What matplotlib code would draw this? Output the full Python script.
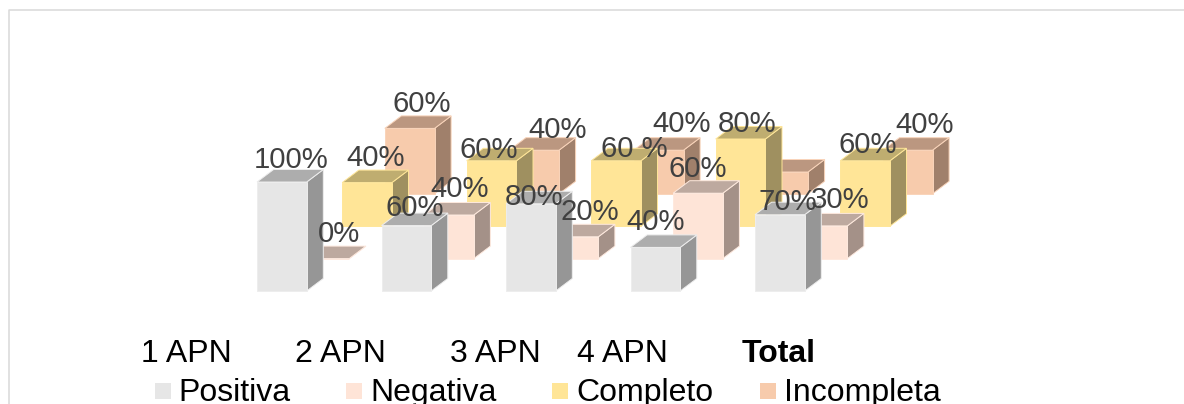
import matplotlib
matplotlib.use("Agg")
import matplotlib.pyplot as plt
from matplotlib.patches import Polygon, Rectangle

plt.rcParams['font.family'] = ['Liberation Sans', 'DejaVu Sans']

categories = ["1 APN", "2 APN", "3 APN", "4 APN", "Total"]
series_names = ["Positiva", "Negativa", "Completo", "Incompleta"]
positiva = [100, 60, 80, 40, 70]
negativa = [0, 40, 20, 60, 30]
completo = [40, 60, 60, 80, 60]
incompleta = [60, 40, 40, 20, 40]
series = [positiva, negativa, completo, incompleta]

# hand-placed label text (one is typed with a space in the original, one is hidden)
labels = [
    ["100%", "60%", "80%", "40%", "70%"],
    ["0%", "40%", "20%", "60%", "30%"],
    ["40%", "60%", "60 %", "80%", "60%"],
    ["60%", "40%", "40%", "", "40%"],
]

# styling / layout
front = ["#E6E6E6", "#FEE4D7", "#FFE597", "#F7CBAC"]
top = ["#ADADAD", "#BDA99F", "#BFAD70", "#BB9780"]
side = ["#969696", "#A49188", "#9F9060", "#A0806B"]
edge = ["#EDEDED", "#FEE9DE", "#FFE699", "#F9D4BA"]
label_pos = [
    [(291, 160), (415, 208), (534, 197), (656, 222), (788, 202)],
    [(339, 234), (460, 189), (590, 212), (698, 169), (840, 200)],
    [(376, 158), (489, 150), (634, 149), (747, 124), (868, 145)],
    [(422, 104), (558, 130), (682, 124), (0, 0), (925, 125)],
]
cat_x = [186, 340, 495, 622, 779]
legend_sq_x = [155, 346, 552, 760]
legend_txt_x = [178, 370, 576, 784]
X0, STEP, BAR_W = 257, 124.5, 49.7
BASE_Y = 291
SER_DX, SER_DY = 42.6, 32.4
DEPTH_X, DEPTH_Y = 16.6, 12.5
PX_PER_PCT = 1.09

fig = plt.figure(figsize=(11.84, 4.04), dpi=100)
ax = fig.add_axes([0, 0, 1, 1])
ax.set_xlim(0, 1184)
ax.set_ylim(404, 0)
ax.axis("off")

ax.plot([8.5, 8.5, 1184], [404, 9.5, 9.5], color="#D9D9D9", lw=1.1, zorder=0)

for s in range(3, -1, -1):
    for c, v in enumerate(series[s]):
        x0 = X0 + c * STEP + s * SER_DX
        x1 = x0 + BAR_W
        yb = BASE_Y - s * SER_DY
        yt = yb - v * PX_PER_PCT
        faces = [
            ([(x1, yb), (x1 + DEPTH_X, yb - DEPTH_Y), (x1 + DEPTH_X, yt - DEPTH_Y), (x1, yt)], side[s]),
            ([(x0, yt), (x1, yt), (x1 + DEPTH_X, yt - DEPTH_Y), (x0 + DEPTH_X, yt - DEPTH_Y)], top[s]),
            ([(x0, yb), (x1, yb), (x1, yt), (x0, yt)], front[s]),
        ]
        for pts, col in faces:
            ax.add_patch(Polygon(pts, closed=True, facecolor=col, edgecolor=edge[s],
                                 lw=0.7, joinstyle="miter", zorder=2))

for s in range(4):
    for c, txt in enumerate(labels[s]):
        if txt:
            px, py = label_pos[s][c]
            ax.text(px, py, txt, ha="center", va="center", fontsize=21.2,
                    color="#404040", zorder=5)

for c, name in enumerate(categories):
    ax.text(cat_x[c], 354, name, ha="center", va="center", fontsize=23, color="black",
            fontweight="bold" if name == "Total" else "normal", zorder=5)

for i, name in enumerate(series_names):
    ax.add_patch(Rectangle((legend_sq_x[i], 383), 16, 16, facecolor=front[i], edgecolor="none", zorder=3))
    ax.text(legend_txt_x[i], 393, name, ha="left", va="center", fontsize=23, color="black", zorder=5)

fig.savefig("out.png", dpi=100)
